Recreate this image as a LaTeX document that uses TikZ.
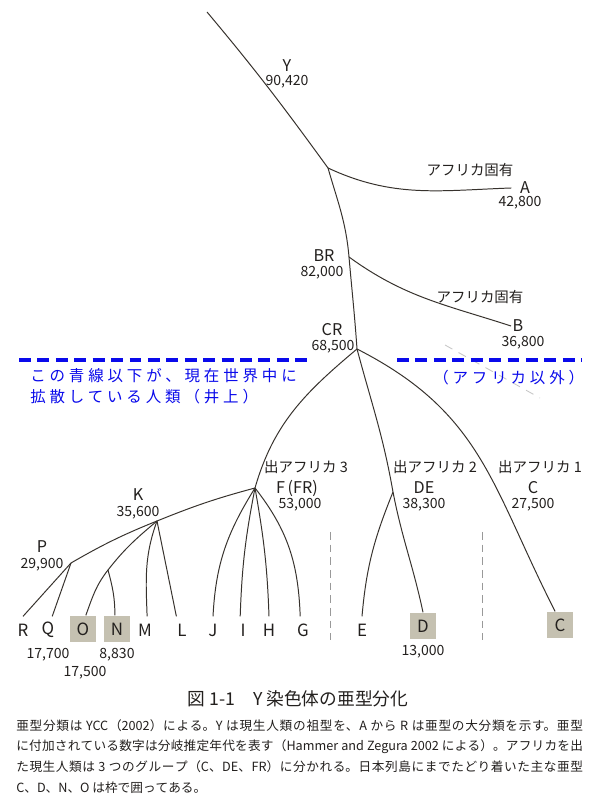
\documentclass[tikz,border=0pt]{standalone}
\usepackage{fontspec}
\setmainfont{Noto Sans CJK JP}
\newfontfamily\bluejp[LetterSpace=25]{Noto Sans CJK JP}
\usepackage{tikz}
\usetikzlibrary{positioning, calc}
\definecolor{treeline}{RGB}{55,50,45}
\definecolor{boxgray}{RGB}{197,193,177}
\definecolor{noteblue}{RGB}{10,10,235}
\definecolor{inkgray}{RGB}{35,32,30}
\tikzstyle{branch} = [draw=treeline, line width=0.7pt]
\tikzstyle{clade} = [font=\fontsize{11.5}{12}\selectfont, text=inkgray, inner sep=0pt]
\tikzstyle{age} = [font=\fontsize{10}{11}\selectfont, text=inkgray, inner sep=0pt]
\tikzstyle{jp} = [font=\fontsize{10.3}{11}\selectfont, text=inkgray, inner sep=0pt]
\tikzstyle{leaf} = [font=\fontsize{12}{13}\selectfont, text=inkgray, minimum size=19pt, inner sep=0pt]
\tikzstyle{kept} = [leaf, fill=boxgray]
\tikzstyle{divider} = [gray!80, line width=0.7pt, dash pattern=on 5.5pt off 3.5pt]
\tikzstyle{bluedash} = [noteblue, line width=3.5pt, dash pattern=on 8.5pt off 4.6pt]
\tikzstyle{note} = [font=\bluejp\fontsize{11}{14.9}\selectfont, text=noteblue, inner sep=0pt, align=left]

\begin{document}
\begin{tikzpicture}[x=0.025cm, y=0.025cm]
    \useasboundingbox (0,0) rectangle (600,800);
    \fill[white] (0,0) rectangle (600,800);
    % junctions
    \coordinate (root) at (207,788);
    \coordinate (yaj) at (328,632);
    \coordinate (brj) at (349,543);
    \coordinate (crj) at (357,451);
    \coordinate (fj) at (255,312);
    \coordinate (dej) at (393,308);
    \coordinate (kj) at (157,279);
    \coordinate (pj) at (71,237);
    \coordinate (onj) at (108,230);
    % labels
    \node[clade] (yName) at (287,734) {Y};
    \node[age] (yAge) at (287,718) {90,420};
    \node[jp] (aJp) at (470,630) {アフリカ固有};
    \node[clade] (aName) at (525,612) {A};
    \node[age] (aAge) at (520,597) {42,800};
    \node[clade] (brName) at (324,544) {BR};
    \node[age] (brAge) at (322,527) {82,000};
    \node[jp] (bJp) at (480,503) {アフリカ固有};
    \node[clade] (bName) at (518,474) {B};
    \node[age] (bAge) at (523,457) {36,800};
    \node[clade] (crName) at (332,470.5) {CR};
    \node[age] (crAge) at (333,453) {68,500};
    \node[jp] (out3) at (306,333) {出アフリカ 3};
    \node[clade] (fName) at (297,312) {F\,(FR)};
    \node[age] (fAge) at (300,295) {53,000};
    \node[jp] (out2) at (435,333) {出アフリカ 2};
    \node[clade] (deName) at (424,312) {DE};
    \node[age] (deAge) at (424,295) {38,300};
    \node[jp] (out1) at (540,333) {出アフリカ 1};
    \node[clade] (cName) at (533,312) {C};
    \node[age] (cAge) at (533,295) {27,500};
    \node[clade] (kName) at (138,305) {K};
    \node[age] (kAge) at (138,287) {35,600};
    \node[clade] (pName) at (42,253) {P};
    \node[age] (pAge) at (42,235) {29,900};
    % leaves
    \foreach \n/\x in {R/23, Q/48, M/145, L/182, J/213, I/243, H/269, G/303, E/362}
        \node[leaf] (\n) at (\x,170) {\n};
    \node[kept] (O) at (83,171) {O};
    \node[kept] (N) at (117,171) {N};
    \node[kept] (D) at (423,174) {D};
    \node[kept] (C) at (560,175) {C};
    \node[age] (qAge) at (48,145) {17,700};
    \node[age] (oAge) at (85,127) {17,500};
    \node[age] (nAge) at (117,145) {8,830};
    \node[age] (dAge) at (423,148) {13,000};
    % trunk and branches
    \draw[branch] (root) to[out=-50,in=126] (yaj);
    \draw[branch] (yaj) to[out=-25,in=182] ([xshift=-6pt]aName.west);
    \draw[branch] (yaj) to[out=-74,in=95] (brj);
    \draw[branch] (brj) to[out=-85,in=94] (crj);
    \draw[branch] (brj) to[out=-36,in=162] ([xshift=-1pt]bName.west);
    \draw[branch] (crj) to[out=-140,in=74] (fj);
    \draw[branch] (crj) to[out=-75,in=100] (dej);
    \draw[branch] (crj) to[out=-27,in=117,looseness=1.1] ([xshift=-3.5pt]C.north);
    \draw[branch] (dej) to[out=-79,in=102] (D.north);
    \draw[branch] (dej) to[out=-112,in=85] (E.north);
    \draw[branch] (fj) to[out=195,in=22] (kj);
    \draw[branch] (kj) to[out=202,in=30] (pj);
    \draw[branch] (pj) -- (R.north);
    \draw[branch] (pj) -- ([xshift=3pt]Q.north);
    \draw[branch] (kj) to[out=-140,in=52] (onj);
    \draw[branch] (onj) to[out=-128,in=70] ([xshift=2pt]O.north);
    \draw[branch] (onj) to[out=-75,in=90] ([xshift=-1.5pt]N.north);
    \draw[branch] (kj) to[out=-110,in=92] ([xshift=1.5pt]M.north);
    \draw[branch] (kj) -- ([xshift=-4pt]L.north);
    \foreach \n/\o/\i/\s in {J/-122/87/0, I/-101/88/-2, H/-80/92/0, G/-52/92/-2}
        \draw[branch] (fj) to[out=\o,in=\i] ([xshift=\s pt]\n.north);
    % dividers
    \draw[divider] (330,268) -- (330,160);
    \draw[divider] (482,268) -- (482,160);
    \draw[gray!45, line width=0.6pt, dash pattern=on 6pt off 5pt] (445,455) -- (540,402);
    % blue note
    \draw[bluedash] (19,440) -- (307,440);
    \draw[bluedash] (397,440) -- (582,440);
    \node[note, anchor=west] (noteL) at (30,413.5) {この青線以下が、現在世界中に\\拡散している人類（井上）};
    \node[note, anchor=west] (noteR) at (433,422) {（アフリカ以外）};
    % caption
    \node[font=\fontsize{12.6}{14}\selectfont, text=inkgray, inner sep=0pt] (title) at (298,101) {図 1-1\quad Y 染色体の亜型分化};
    \node[anchor=north west, inner sep=0pt, text width=403pt, align=justify, font=\fontsize{9}{14.7}\selectfont, text=inkgray] (notes) at (16,81)
        {\XeTeXlinebreaklocale "ja"\XeTeXlinebreakskip=0pt plus 1pt
        亜型分類は YCC（2002）による。Y は現生人類の祖型を、A から R は亜型の大分類を示す。亜型\linebreak
        に付加されている数字は分岐推定年代を表す（Hammer and Zegura 2002 による）。アフリカを出\linebreak
        た現生人類は 3 つのグループ（C、DE、FR）に分かれる。日本列島にまでたどり着いた主な亜型\linebreak
        C、D、N、O は枠で囲ってある。};
\end{tikzpicture}
\end{document}
